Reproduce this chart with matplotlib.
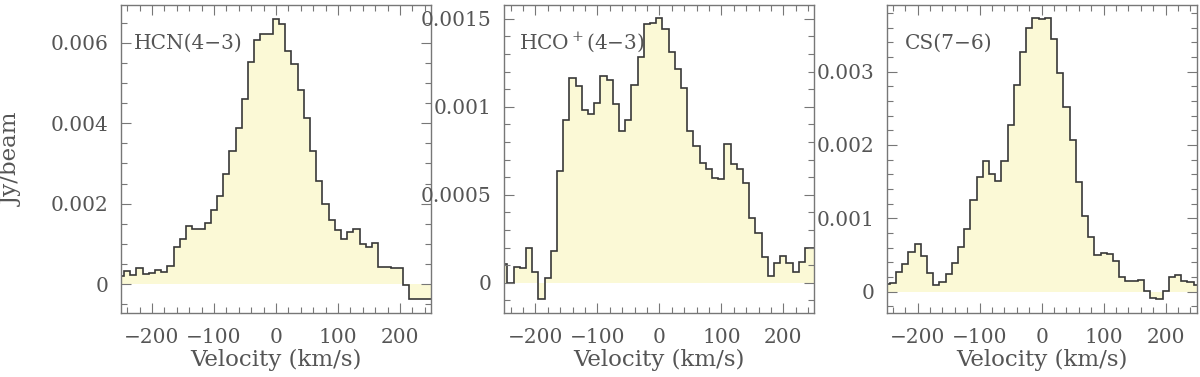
import numpy as np
import matplotlib
matplotlib.use('Agg')
import matplotlib.pyplot as plt
from matplotlib.ticker import MultipleLocator, FuncFormatter

# channel centres, 10 km/s wide
velocity = np.arange(-250, 251, 10)

# flux densities, in mJy/beam
hcn = [0.20, 0.32, 0.22, 0.40, 0.24, 0.28, 0.36, 0.31, 0.45, 0.93,
       1.11, 1.45, 1.36, 1.38, 1.52, 1.84, 2.19, 2.73, 3.30, 3.87,
       4.61, 5.51, 6.08, 6.21, 6.21, 6.60, 6.46, 5.80, 5.47, 4.82,
       4.14, 3.31, 2.56, 2.00, 1.59, 1.34, 1.11, 1.30, 1.36, 0.99,
       0.93, 1.01, 0.43, 0.43, 0.40, 0.40, -0.03, -0.37, -0.37, -0.37,
       -0.37]
hco = [0.106, 0.0, 0.087, 0.082, 0.195, 0.063, -0.093, 0.025, 0.18, 0.636,
       0.924, 1.163, 1.116, 0.983, 0.958, 1.021, 1.178, 1.154, 1.015, 0.863,
       0.924, 1.125, 1.283, 1.472, 1.476, 1.505, 1.444, 1.311, 1.216, 1.106,
       0.865, 0.78, 0.683, 0.645, 0.594, 0.588, 0.789, 0.674, 0.645, 0.569,
       0.37, 0.281, 0.144, 0.038, 0.114, 0.152, 0.11, 0.063, 0.12, 0.2,
       0.2]
cs = [0.105, 0.123, 0.264, 0.377, 0.545, 0.645, 0.491, 0.25, 0.091, 0.136,
      0.241, 0.395, 0.614, 0.855, 1.25, 1.568, 1.782, 1.605, 1.514, 1.786,
      2.273, 2.818, 3.273, 3.591, 3.727, 3.718, 3.727, 3.441, 2.986, 2.523,
      2.068, 1.491, 1.036, 0.75, 0.5, 0.523, 0.509, 0.423, 0.205, 0.15,
      0.145, 0.159, 0.014, -0.082, -0.1, 0.014, 0.195, 0.227, 0.15, 0.136,
      0.091]

labels = ['HCN(4\u22123)', 'HCO$^+$(4\u22123)', 'CS(7\u22126)']
ylims = [(-0.00072, 0.00694), (-0.000172, 0.001579), (-0.000291, 0.003909)]
ymajor = [0.002, 0.0005, 0.001]
yminor = [0.0005, 0.0001, 0.0002]
lefts = [0.1008, 0.4203, 0.7389]
label_x = [0.042, 0.048, 0.059]

FILL = '#fbf9d6'
LINE = '#383838'
GREY = '#555555'
plt.rcParams['font.family'] = ['DejaVu Serif']
plt.rcParams['mathtext.fontset'] = 'dejavuserif'
FS = 14.5
FS_AX = 16.5

fig = plt.figure(figsize=(12, 3.77), dpi=100)
edges = np.append(velocity - 5, velocity[-1] + 5)

for i, spec in enumerate([hcn, hco, cs]):
    ax = fig.add_axes([lefts[i], 0.1698, 0.2583, 0.817])
    flux = np.array(spec) * 1e-3
    ax.stairs(flux, edges, baseline=0, fill=True, color=FILL, lw=0)
    ax.stairs(flux, edges, baseline=None, color=LINE, lw=1.2)
    ax.set_xlim(-250, 250)
    ax.set_ylim(*ylims[i])
    ax.xaxis.set_major_locator(MultipleLocator(100))
    ax.xaxis.set_minor_locator(MultipleLocator(20))
    ax.yaxis.set_major_locator(MultipleLocator(ymajor[i]))
    ax.yaxis.set_minor_locator(MultipleLocator(yminor[i]))
    ax.yaxis.set_major_formatter(FuncFormatter(lambda v, p: '%g' % round(v, 6)))
    ax.xaxis.set_major_formatter(FuncFormatter(lambda v, p: ('%d' % v).replace('-', '\u2212')))
    ax.tick_params(which='both', direction='in', top=True, right=True,
                   color='#777777', width=0.8, labelcolor=GREY, labelsize=FS)
    ax.tick_params(which='major', length=7.5)
    ax.tick_params(which='minor', length=4)
    ax.tick_params(axis='x', pad=11)
    ax.tick_params(axis='y', pad=9)
    for s in ax.spines.values():
        s.set_color('#777777')
        s.set_linewidth(1.0)
    ax.text(label_x[i], 0.877, labels[i], transform=ax.transAxes,
            ha='left', va='center', fontsize=FS, color=GREY)
    ax.text(0.5, -0.153, 'Velocity (km/s)', transform=ax.transAxes,
            ha='center', va='center', fontsize=FS_AX, color=GREY)

fig.text(12 / 1200, 1 - 159 / 377, 'Jy/beam', rotation=90, ha='center',
         va='center', fontsize=FS_AX, color=GREY)

fig.savefig('out.png', dpi=100)
